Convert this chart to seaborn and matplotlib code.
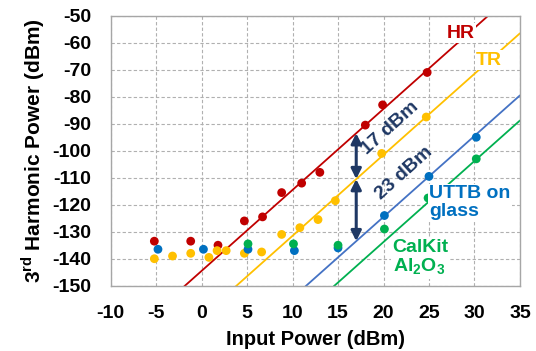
import numpy as np
import pandas as pd
import matplotlib
matplotlib.use("Agg")
import matplotlib.pyplot as plt
import seaborn as sns

# measured 3rd harmonic power vs input power (dBm)
hr_x = [-5.2, -1.2, 1.8, 4.7, 6.7, 8.8, 11.0, 13.0, 18.0, 19.9, 24.8]
hr_y = [-133.5, -133.5, -135.0, -126.0, -124.5, -115.5, -112.0, -108.0, -90.5, -83.0, -71.0]
tr_x = [-5.2, -3.2, -1.2, 0.8, 1.7, 2.7, 4.7, 6.6, 8.8, 10.8, 12.8, 14.7, 19.8, 24.7]
tr_y = [-140.0, -139.0, -138.0, -139.5, -137.0, -137.0, -138.0, -137.5, -131.0, -128.5,
        -125.5, -118.5, -101.0, -87.5]
uttb_x = [-4.8, 0.2, 5.1, 10.2, 15.0, 20.1, 25.0, 30.2]
uttb_y = [-136.5, -136.5, -136.5, -137.0, -136.0, -124.0, -109.5, -95.0]
cal_x = [5.1, 10.1, 15.0, 20.1, 24.9, 30.2]
cal_y = [-134.5, -134.5, -135.0, -129.0, -117.5, -103.0]

devices = ['HR', 'TR', 'UTTB', 'CalKit']
point_colors = {'HR': '#C00000', 'TR': '#FFC000', 'UTTB': '#0070C0', 'CalKit': '#00B050'}
line_colors = {'HR': '#C00000', 'TR': '#FFC000', 'UTTB': '#4472C4', 'CalKit': '#00B050'}
# 3:1 slope fit lines, intercepts in dBm
fit_slope = 3
fit_intercept = {'HR': -144.5, 'TR': -161.5, 'UTTB': -184.5, 'CalKit': -193.8}

sns.set_theme(style="whitegrid")
plt.rcParams['font.family'] = ['Liberation Sans', 'DejaVu Sans']
plt.rcParams['font.weight'] = 'bold'
plt.rcParams['axes.unicode_minus'] = False
plt.rcParams['mathtext.fontset'] = 'custom'
plt.rcParams['mathtext.rm'] = 'Liberation Sans:bold'
plt.rcParams['mathtext.bf'] = 'Liberation Sans:bold'

df = pd.concat([
    pd.DataFrame({'x': hr_x, 'y': hr_y, 'device': 'HR'}),
    pd.DataFrame({'x': tr_x, 'y': tr_y, 'device': 'TR'}),
    pd.DataFrame({'x': uttb_x, 'y': uttb_y, 'device': 'UTTB'}),
    pd.DataFrame({'x': cal_x, 'y': cal_y, 'device': 'CalKit'}),
], ignore_index=True)

fig = plt.figure(figsize=(5.36, 3.51), dpi=100)
ax = fig.add_subplot(111)
fig.subplots_adjust(left=0.2065, right=0.970, top=0.955, bottom=0.186)

# fit lines
xs = np.array([-10, 35])
for d in devices:
    ax.plot(xs, fit_slope * xs + fit_intercept[d], color=line_colors[d], lw=1.3, zorder=2)

sns.scatterplot(data=df, x='x', y='y', hue='device', hue_order=devices,
                palette=point_colors, s=40, edgecolor='none', legend=False, ax=ax, zorder=3)

ax.set_xlim(-10, 35)
ax.set_ylim(-150, -50)
ax.set_xticks(range(-10, 36, 5))
ax.set_yticks(range(-150, -49, 10))
ax.grid(True, color='#B0B0B0', linestyle=(0, (3, 2)), lw=0.8)
for s in ax.spines.values():
    s.set_color('#A6A6A6')
    s.set_linewidth(1)
ax.tick_params(length=0, labelsize=14, colors='black')
ax.tick_params(axis='x', pad=14)
ax.tick_params(axis='y', pad=14)
for lbl in ax.get_xticklabels() + ax.get_yticklabels():
    lbl.set_fontweight('bold')

ax.set_xlabel('Input Power (dBm)', fontsize=14.5, fontweight='bold', labelpad=6, color='black')
ax.set_ylabel(r'3$^{\mathrm{rd}}$ Harmonic Power (dBm)', fontsize=15, fontweight='bold',
              labelpad=4, color='black')

# double arrows showing the spacing between fits
navy = '#1F3864'
x_arr = 17
y_hr = fit_slope * x_arr + fit_intercept['HR']
y_tr = fit_slope * x_arr + fit_intercept['TR']
y_ut = fit_slope * x_arr + fit_intercept['UTTB']
arrow = dict(arrowstyle='<|-|>', color=navy, lw=2.2, mutation_scale=15, shrinkA=0, shrinkB=0)
ax.annotate('', xy=(x_arr, y_hr), xytext=(x_arr, y_tr), arrowprops=arrow, zorder=4)
ax.annotate('', xy=(x_arr, y_tr), xytext=(x_arr, y_ut), arrowprops=arrow, zorder=4)
ax.text(20.7, -91.7, '17 dBm', color=navy, fontsize=14, fontweight='bold',
        rotation=42, ha='center', va='center', rotation_mode='anchor')
ax.text(22.3, -108.4, '23 dBm', color=navy, fontsize=14, fontweight='bold',
        rotation=42, ha='center', va='center', rotation_mode='anchor')

box = dict(facecolor='white', edgecolor='none', pad=1)
ax.text(28.5, -56.5, 'HR', color='#C00000', fontsize=14, fontweight='bold',
        ha='center', va='center', bbox=box, zorder=5)
ax.text(31.6, -66.4, 'TR', color='#FFC000', fontsize=14, fontweight='bold',
        ha='center', va='center', bbox=box, zorder=5)
ax.text(25.0, -119.2, 'UTTB on\nglass', color='#0070C0', fontsize=14, fontweight='bold',
        ha='left', va='center', bbox=box, zorder=5, linespacing=1.1)
ax.text(21.0, -139.7, 'CalKit\nAl$_2$O$_3$', color='#00B050', fontsize=14, fontweight='bold',
        ha='left', va='center', bbox=box, zorder=5, linespacing=1.1)

fig.savefig('out.png', dpi=100)
